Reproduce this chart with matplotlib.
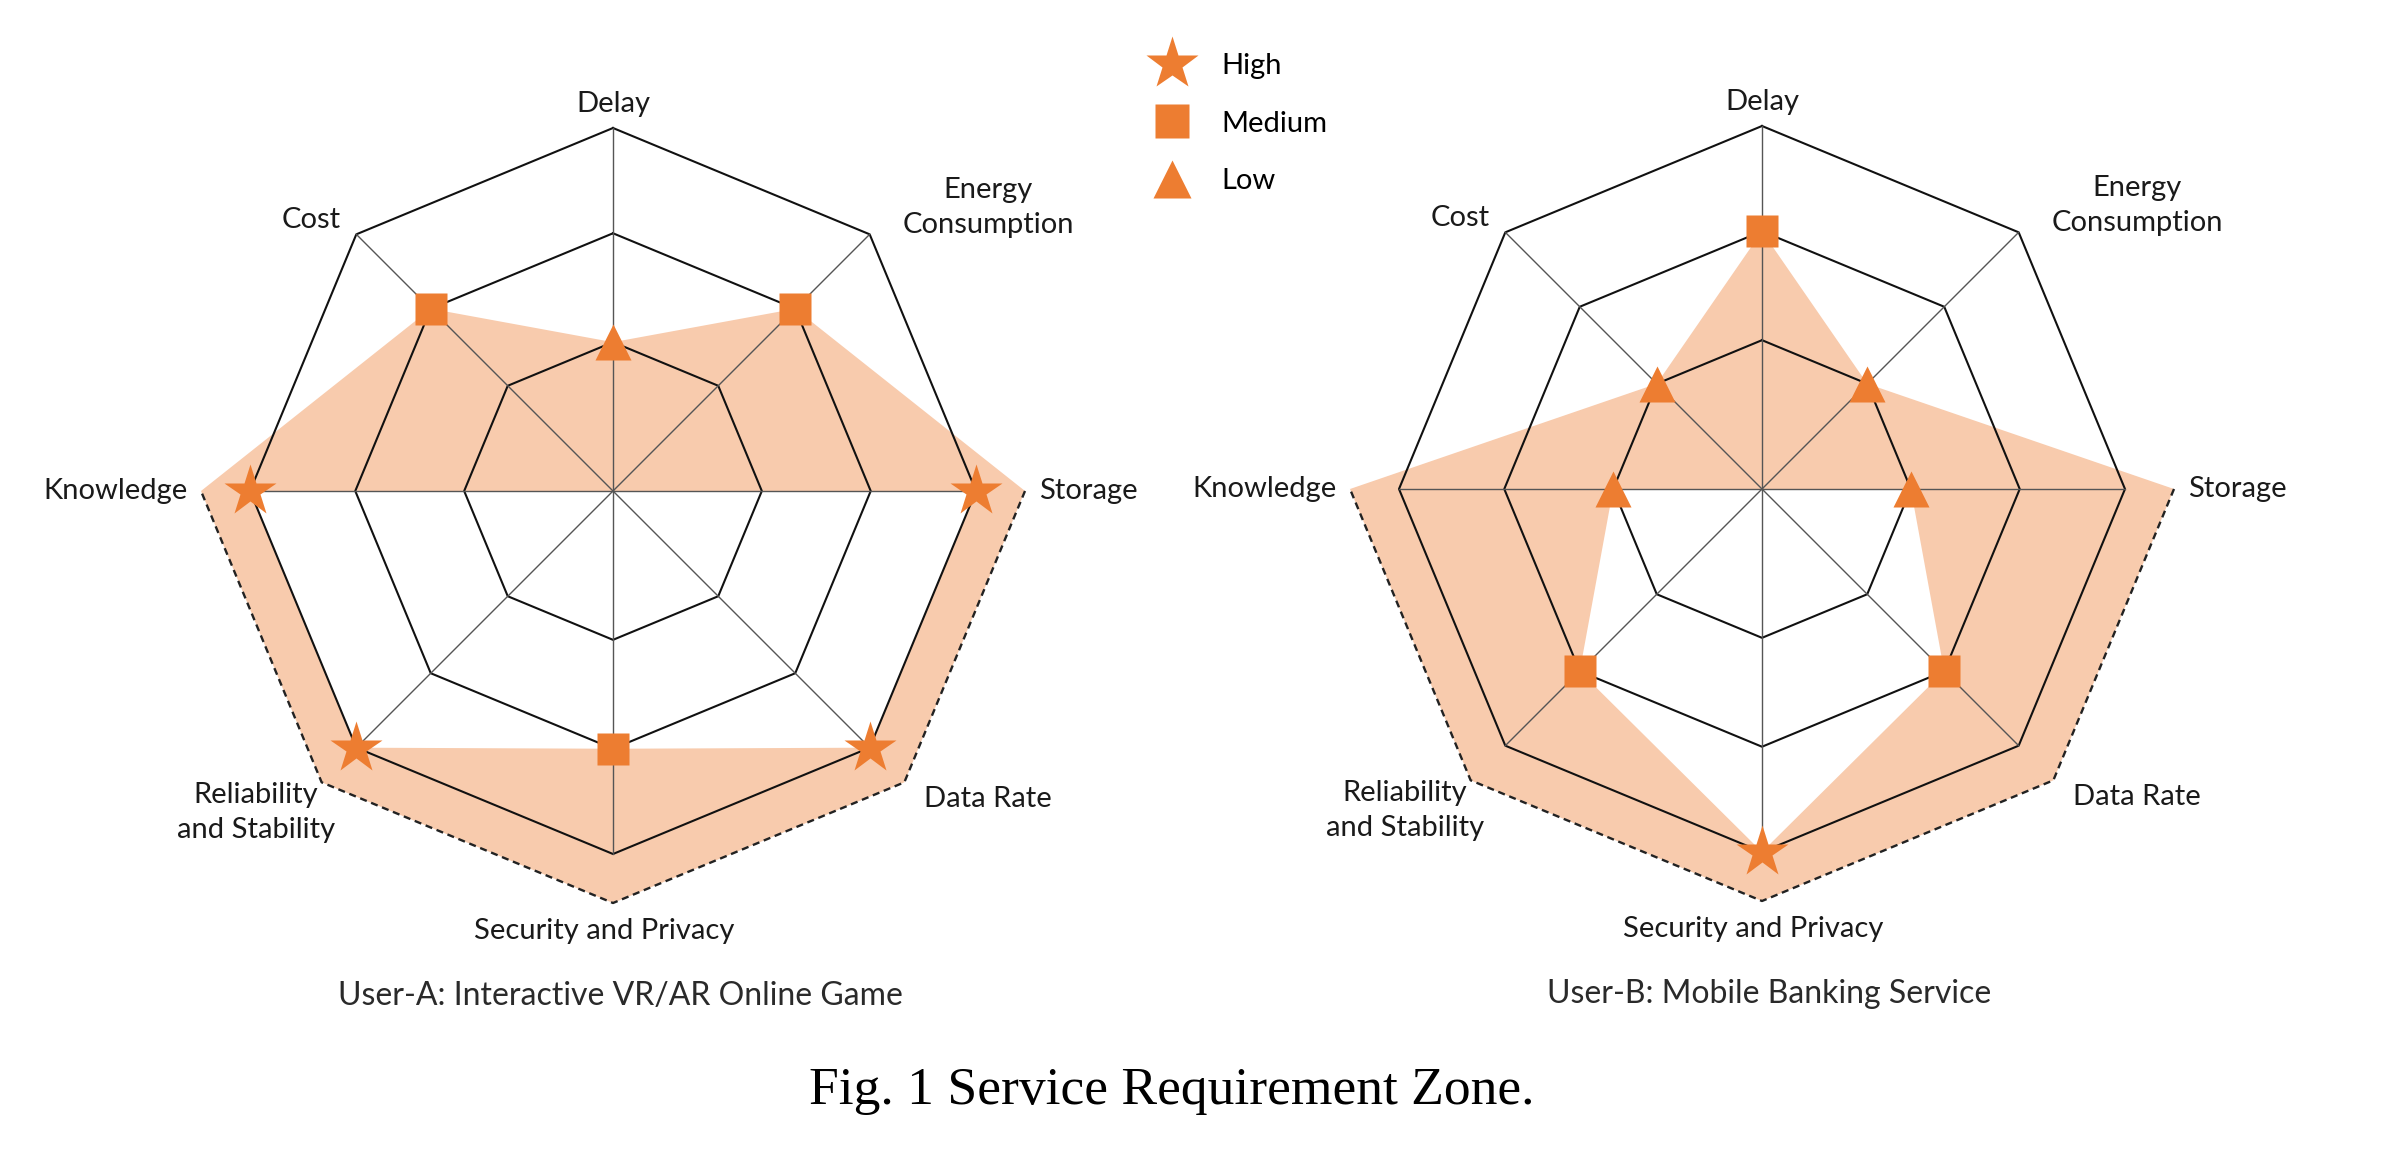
import numpy as np
import matplotlib.pyplot as plt
from matplotlib.lines import Line2D

plt.rcParams['font.family'] = ['Lato', 'DejaVu Sans']

# ............................................................ data
categories = ['Delay', 'Energy\nConsumption', 'Storage', 'Data Rate',
              'Security and Privacy', 'Reliability\nand Stability',
              'Knowledge', 'Cost']
angles_deg = [90, 45, 0, -45, -90, -135, 180, 135]
# True -> requirement is an upper bound (zone runs from 0 up to the level)
upper_bound = [True, True, False, False, False, False, False, True]
level_names = ['High', 'Medium', 'Low']
level_radius = [1.0, 0.71, 0.41]
level_marker = ['*', 's', '^']
zone_edge = 1.135
user_a = ['Low', 'Medium', 'High', 'High', 'Medium', 'High', 'High', 'Medium']
user_b = ['Medium', 'Low', 'Low', 'Medium', 'High', 'Medium', 'Low', 'Low']
titles = ['User-A: Interactive VR/AR Online Game',
          'User-B: Mobile Banking Service']

# ........................................................... style
orange = '#ED7D31'
zone_col = '#F8CBAD'
msize = {'*': 39, 's': 23, '^': 26}
fs = 21
# label anchor (in ring units) and alignment for each category
label_pos = [(0.0, 1.067, 'center'), (1.034, 0.781, 'center'),
             (1.173, 0.0, 'left'), (0.857, -0.848, 'left'),
             (-0.025, -1.211, 'center'), (-0.983, -0.886, 'center'),
             (-1.173, 0.0, 'right'), (-0.831, 0.747, 'center')]

W, H, DPI = 2402, 1159, 100
R_PX = 363.0      # pixel size of one ring unit
HALF = 560.0      # half size of each axes in pixels
centers = [(613, 491), (1762, 489)]

fig = plt.figure(figsize=(W / DPI, H / DPI), dpi=DPI)
theta = np.radians(angles_deg)
lv = dict(zip(level_names, level_radius))
mk = dict(zip(level_names, level_marker))


def pt(i, r):
    return r * np.cos(theta[i]), r * np.sin(theta[i])


def radar(ax, req, title):
    vals = [lv[q] for q in req]
    n = len(vals)
    # zone: upper half (0 -> value), lower half (value -> outside)
    up_idx = [6, 7, 0, 1, 2]
    poly = [pt(i, vals[i] if upper_bound[i] else zone_edge) for i in up_idx]
    ax.fill(*zip(*poly), color=zone_col, lw=0, zorder=1)
    lo_idx = [2, 3, 4, 5, 6]
    outer = [pt(i, zone_edge) for i in lo_idx]
    inner = [pt(i, vals[i]) for i in lo_idx[::-1]]
    ax.fill(*zip(*(outer + inner)), color=zone_col, lw=0, zorder=1)
    ox, oy = zip(*outer)
    ax.plot(ox, oy, color='#222222', lw=1.7, ls=(0, (3, 2)), zorder=2)
    # grid
    for r in level_radius:
        ring = [pt(i, r) for i in list(range(n)) + [0]]
        ax.plot(*zip(*ring), color='#111111', lw=1.5, zorder=2)
    for i in range(n):
        x, y = pt(i, 1.0)
        ax.plot([0, x], [0, y], color='#555555', lw=1.0, zorder=2)
    # markers
    for i in range(n):
        x, y = pt(i, vals[i])
        m = mk[req[i]]
        ax.plot(x, y, marker=m, ms=msize[m], color=orange, mec='none',
                zorder=3, ls='none')
    # labels
    for (lx, ly, ha), name in zip(label_pos, categories):
        ax.text(lx, ly, name, ha=ha, va='center', fontsize=fs,
                color='#1a1a1a', linespacing=1.45)
    ax.text(0.02, -1.392, title, ha='center', va='center', fontsize=23,
            color='#2a2a2a')


for (cx, cy), req, title in zip(centers, [user_a, user_b], titles):
    ax = fig.add_axes([(cx - HALF) / W, (H - cy - HALF) / H,
                       2 * HALF / W, 2 * HALF / H])
    lim = HALF / R_PX
    ax.set_xlim(-lim, lim)
    ax.set_ylim(-lim, lim)
    ax.axis('off')
    radar(ax, req, title)

handles = [Line2D([], [], ls='none', marker=m, ms=msize[m] + 1,
                  color=orange, mec='none') for m in level_marker]
fig.legend(handles, level_names, loc='upper left',
           bbox_to_anchor=(1154 / W, 1 - 53 / H), frameon=False,
           fontsize=fs, handlelength=1.2, handletextpad=1.11,
           labelspacing=1.08, borderaxespad=0, borderpad=0)

fig.text(1172 / W, 1 - 1091 / H, 'Fig. 1 Service Requirement Zone.',
         ha='center', va='center', fontsize=38.5, family='Liberation Serif')

fig.savefig('out.png', dpi=DPI)
